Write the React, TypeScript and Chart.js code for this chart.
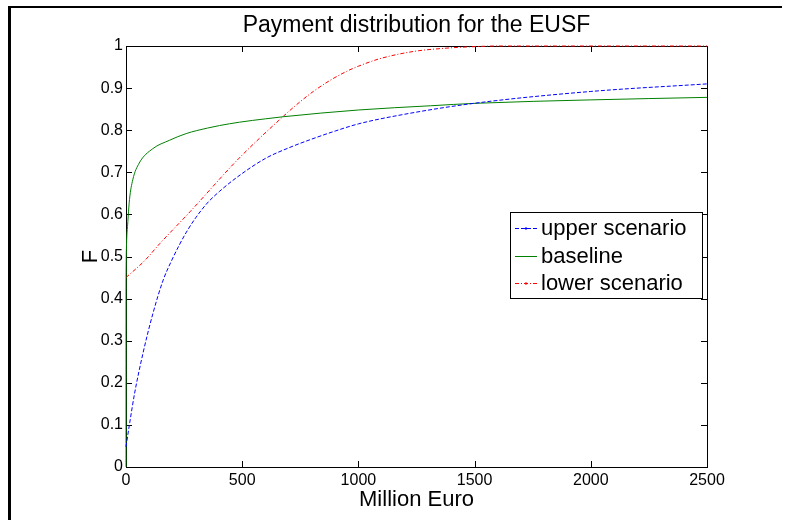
import React, { useEffect, useRef } from 'react';
import { Chart, registerables } from 'chart.js';

Chart.register(...registerables);

// ---- data ----
const titleText = 'Payment distribution for the EUSF';
const xTitle = 'Million Euro';
const yTitle = 'F';
const seriesLabels = ['upper scenario', 'baseline', 'lower scenario'];

const upperX = [0, 16, 37, 73, 116, 160, 196, 230, 260, 300, 350, 403, 482, 600, 700, 800, 900, 1000, 1200, 1500, 2000, 2500];
const upperY = [0.048, 0.105, 0.175, 0.27, 0.365, 0.444, 0.49, 0.528, 0.558, 0.592, 0.627, 0.655, 0.69, 0.733, 0.758, 0.779, 0.798, 0.815, 0.838, 0.864, 0.892, 0.91];

const baseX = [0, 0, 1, 3, 7, 15, 29, 57, 115, 187, 259, 350, 402, 488, 600, 677, 1000, 1309, 1510, 2000, 2500];
const baseY = [0, 0.45, 0.5, 0.54, 0.575, 0.635, 0.682, 0.722, 0.756, 0.776, 0.792, 0.805, 0.811, 0.819, 0.827, 0.832, 0.848, 0.858, 0.864, 0.872, 0.878];

const lowerX = [0, 80, 146, 275, 484, 677, 750, 806, 877, 950, 1000, 1093, 1237, 1381, 1481, 1600, 2500];
const lowerY = [0.45, 0.49, 0.531, 0.606, 0.732, 0.833, 0.868, 0.892, 0.918, 0.94, 0.952, 0.97, 0.987, 0.995, 0.998, 1.0, 1.0];

const xTicks = [0, 500, 1000, 1500, 2000, 2500];
const xTickLabels = ['0', '500', '1000', '1500', '2000', '2500'];
const yTicks = [0, 0.1, 0.2, 0.3, 0.4, 0.5, 0.6, 0.7, 0.8, 0.9, 1];
const yTickLabels = ['0', '0.1', '0.2', '0.3', '0.4', '0.5', '0.6', '0.7', '0.8', '0.9', '1'];

const FONT = "'Liberation Sans', Arial, Helvetica, sans-serif";
const colors = ['#0000ff', '#008000', '#ff0000'];
const dashes: number[][] = [[4, 2], [], [4, 2, 1, 2]];

const pts = (xs: number[], ys: number[]) => xs.map((x, i) => ({ x, y: ys[i] }));

const decorPlugin = {
  id: 'decor',
  beforeDatasetsDraw(chart: any) {
    const ctx = chart.ctx as CanvasRenderingContext2D;
    const { left, right, top, bottom } = chart.chartArea;
    const xs = chart.scales.x;
    const ys = chart.scales.y;
    ctx.save();
    ctx.strokeStyle = '#000';
    ctx.lineWidth = 1;
    ctx.setLineDash([]);
    ctx.beginPath();
    ctx.moveTo(Math.round(left) + 0.5, Math.round(top) + 0.5);
    ctx.lineTo(Math.round(right) + 0.5, Math.round(top) + 0.5);
    ctx.lineTo(Math.round(right) + 0.5, Math.round(bottom) + 0.5);
    ctx.stroke();
    const tl = 6;
    ctx.beginPath();
    xTicks.forEach((v) => {
      const px = Math.round(xs.getPixelForValue(v)) + 0.5;
      ctx.moveTo(px, bottom);
      ctx.lineTo(px, bottom - tl);
      ctx.moveTo(px, top);
      ctx.lineTo(px, top + tl);
    });
    yTicks.forEach((v) => {
      const py = Math.round(ys.getPixelForValue(v)) + 0.5;
      ctx.moveTo(left, py);
      ctx.lineTo(left + tl, py);
      ctx.moveTo(right, py);
      ctx.lineTo(right - tl, py);
    });
    ctx.stroke();
    ctx.restore();
  },
  afterDraw(chart: any) {
    const ctx = chart.ctx as CanvasRenderingContext2D;
    const { left, right, top, bottom } = chart.chartArea;
    ctx.save();
    // title
    ctx.fillStyle = '#000';
    ctx.font = `23px ${FONT}`;
    ctx.textAlign = 'center';
    ctx.textBaseline = 'alphabetic';
    ctx.fillText(titleText, (left + right) / 2, 32);
    // x title
    ctx.font = `22px ${FONT}`;
    ctx.fillText(xTitle, (left + right) / 2, 506);
    // y title
    ctx.save();
    ctx.translate(97, (top + bottom) / 2);
    ctx.rotate(-Math.PI / 2);
    ctx.fillText(yTitle, 0, 0);
    ctx.restore();

    // legend
    const lx = right - 197;
    const ly = top + 166;
    const lw = 192;
    const lh = 86;
    ctx.fillStyle = '#fff';
    ctx.fillRect(lx, ly, lw, lh);
    ctx.strokeStyle = '#000';
    ctx.lineWidth = 1;
    ctx.strokeRect(Math.round(lx) + 0.5, Math.round(ly) + 0.5, lw, lh);
    ctx.font = `22px ${FONT}`;
    ctx.textAlign = 'left';
    ctx.textBaseline = 'middle';
    chart.data.datasets.forEach((ds: any, i: number) => {
      const cy = ly + 16 + i * 27.5;
      ctx.strokeStyle = ds.borderColor;
      ctx.lineWidth = 1;
      ctx.setLineDash(ds.borderDash || []);
      ctx.beginPath();
      ctx.moveTo(lx + 5, Math.round(cy) + 0.5);
      ctx.lineTo(lx + 27, Math.round(cy) + 0.5);
      ctx.stroke();
      ctx.setLineDash([]);
      if (i !== 1) {
        ctx.fillStyle = ds.borderColor;
        ctx.fillRect(lx + 15, Math.round(cy) - 0.5, 2, 2);
      }
      ctx.fillStyle = '#000';
      ctx.fillText(ds.label, lx + 31, cy + 1);
    });

    // outer frame (top and left)
    ctx.fillStyle = '#000';
    ctx.fillRect(8, 6, 774, 2);
    ctx.fillRect(8, 6, 3, 514);
    ctx.restore();
  },
};

export default function App() {
  const ref = useRef<HTMLCanvasElement | null>(null);
  useEffect(() => {
    if (!ref.current) return;
    const mk = (i: number, xs: number[], ys: number[]) => ({
      label: seriesLabels[i],
      data: pts(xs, ys),
      borderColor: colors[i],
      backgroundColor: colors[i],
      borderWidth: 1,
      borderDash: dashes[i],
      pointRadius: 0,
      fill: false,
      clip: false as any,
      cubicInterpolationMode: 'monotone' as const,
    });
    const chart = new Chart(ref.current, {
      type: 'line',
      data: {
        datasets: [mk(0, upperX, upperY), mk(1, baseX, baseY), mk(2, lowerX, lowerY)],
      },
      options: {
        responsive: false,
        animation: false,
        devicePixelRatio: 1,
        layout: { padding: { left: 0, right: 80, top: 46, bottom: 0 } },
        plugins: {
          legend: { display: false },
          tooltip: { enabled: false },
          title: { display: false },
        },
        scales: {
          x: {
            type: 'linear',
            min: 0,
            max: 2500,
            afterBuildTicks: (s: any) => {
              s.ticks = xTicks.map((v) => ({ value: v }));
            },
            afterFit: (s: any) => {
              s.height = 53;
            },
            ticks: {
              color: '#000',
              font: { family: FONT, size: 16 },
              padding: 4,
              maxRotation: 0,
              autoSkip: false,
              callback: (v: any) => xTickLabels[xTicks.indexOf(Number(v))] ?? '',
            },
            grid: { display: false, drawTicks: false },
            border: { display: true, color: '#000', width: 1 },
          },
          y: {
            type: 'linear',
            min: 0,
            max: 1,
            afterBuildTicks: (s: any) => {
              s.ticks = yTicks.map((v) => ({ value: v }));
            },
            afterFit: (s: any) => {
              s.width = 126;
            },
            ticks: {
              color: '#000',
              font: { family: FONT, size: 16 },
              padding: 3,
              autoSkip: false,
              callback: (v: any) => {
                const idx = yTicks.findIndex((t) => Math.abs(t - Number(v)) < 1e-9);
                return idx >= 0 ? yTickLabels[idx] : '';
              },
            },
            grid: { display: false, drawTicks: false },
            border: { display: true, color: '#000', width: 1 },
          },
        },
      },
      plugins: [decorPlugin],
    });
    return () => chart.destroy();
  }, []);
  return (
    <div style={{ position: 'absolute', left: 0, top: 0, width: 787, height: 520, background: '#fff' }}>
      <canvas ref={ref} width={787} height={520} style={{ display: 'block' }} />
    </div>
  );
}
